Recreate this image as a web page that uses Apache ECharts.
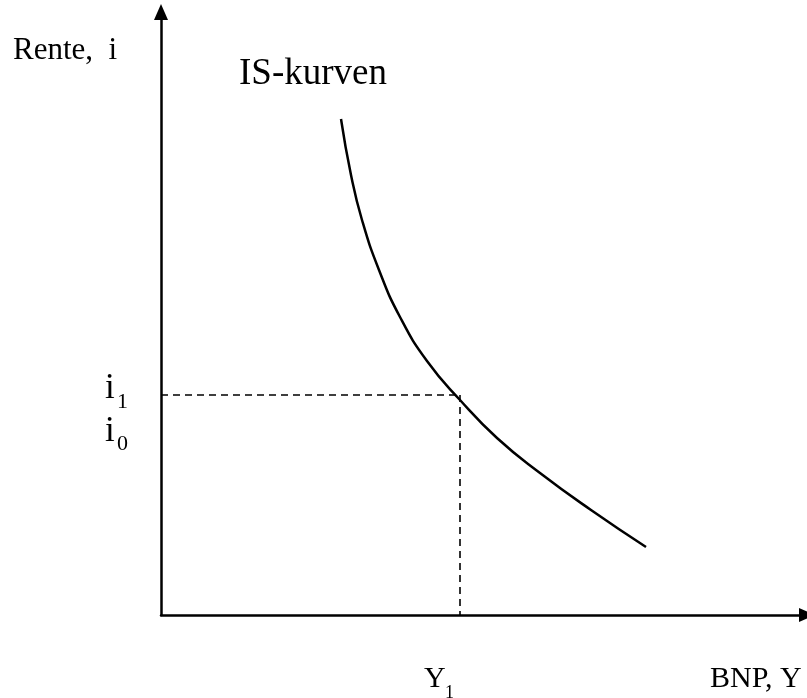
<!DOCTYPE html>
<html><head><meta charset="utf-8">
<script src="https://cdn.jsdelivr.net/npm/echarts@6/dist/echarts.min.js"></script>
<style>html,body{margin:0;padding:0;background:#fff}#c{width:807px;height:698px}</style>
</head><body><div id="c"></div>
<script>
// IS curve points (Y = BNP, i = rente), in diagram units
const curveY = [180, 190, 201, 218, 239, 266, 299, 336, 379, 430, 485];
const curveI = [496, 440, 395, 345, 298, 254, 215, 177, 142, 105, 68];
const Y1 = 299;
const I1 = 220;

const chart = echarts.init(document.getElementById('c'));
const serif = '"Liberation Serif", "DejaVu Serif", serif';
function t(text, size, left, top) {
  return {type: 'text', left: left, top: top, style: {text: text, fontSize: size, fontFamily: serif, fill: '#000'}};
}
chart.setOption({
  animation: false,
  grid: {left: 161, right: 0, top: 12, bottom: 83},
  xAxis: {type: 'value', min: 0, max: 646, splitLine: {show: false}, axisTick: {show: false}, axisLabel: {show: false},
    axisLine: {lineStyle: {color: '#000', width: 2.5}, symbol: ['none', 'triangle'], symbolSize: [14, 16]}},
  yAxis: {type: 'value', min: 0, max: 603, splitLine: {show: false}, axisTick: {show: false}, axisLabel: {show: false},
    axisLine: {lineStyle: {color: '#000', width: 2.5}, symbol: ['none', 'triangle'], symbolSize: [14, 16]}},
  series: [{
    type: 'line', smooth: 0.5, symbol: 'none',
    data: curveY.map((y, k) => [y, curveI[k]]),
    lineStyle: {color: '#000', width: 2.5},
    markLine: {
      silent: true, symbol: 'none', label: {show: false},
      lineStyle: {color: '#000', type: [7, 5], width: 1.6},
      data: [
        [{coord: [0, I1]}, {coord: [Y1, I1]}],
        [{coord: [Y1, I1]}, {coord: [Y1, 0]}]
      ]
    }
  }],
  graphic: [
    t('Rente,  i', 31, 13, 35),
    t('IS-kurven', 37, 239, 56),
    t('i', 35, 105, 371),
    t('1', 22, 117, 391),
    t('i', 35, 105, 414),
    t('0', 22, 117, 433),
    t('Y', 30, 424, 664),
    t('1', 18, 445, 684),
    t('BNP, Y', 30, 710, 664)
  ]
});
</script></body></html>
